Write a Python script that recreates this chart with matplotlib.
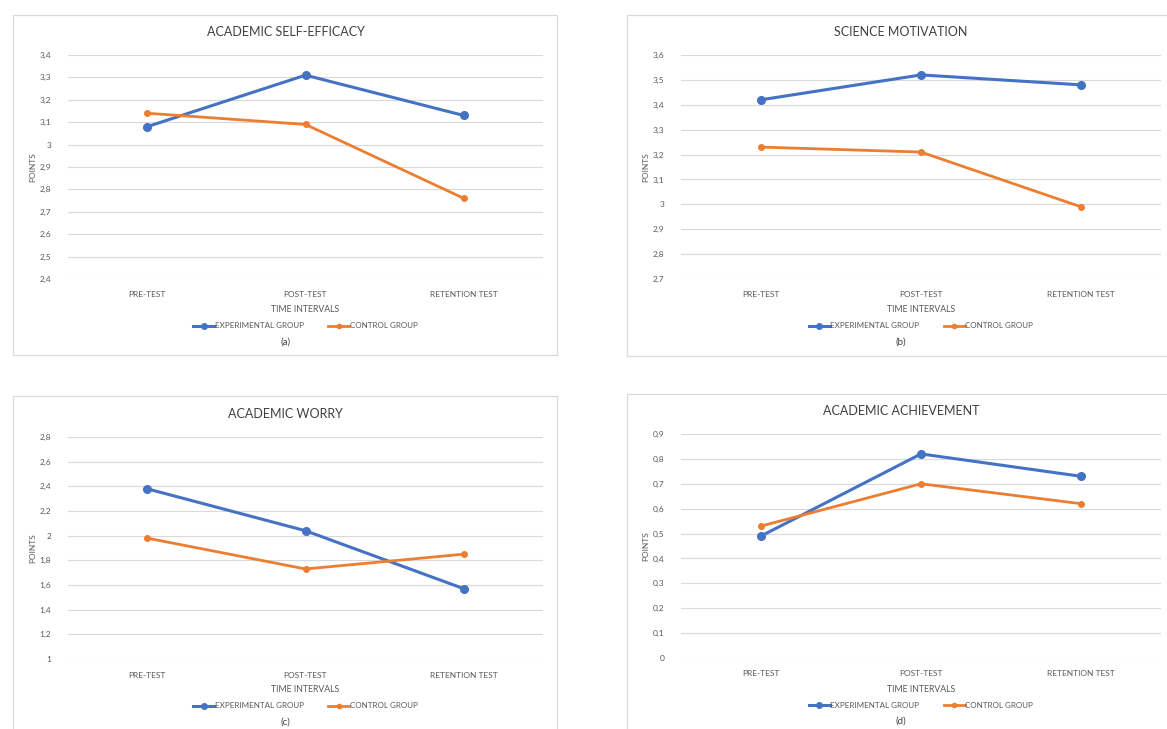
import matplotlib.pyplot as plt
from matplotlib.patches import Rectangle
from matplotlib.lines import Line2D

plt.rcParams['font.family'] = ['Lato', 'DejaVu Sans']

W, H = 1167, 729

stages = ["PRE-TEST", "POST-TEST", "RETENTION TEST"]
titles = ["ACADEMIC SELF-EFFICACY", "SCIENCE MOTIVATION", "ACADEMIC WORRY", "ACADEMIC ACHIEVEMENT"]
captions = ["(a)", "(b)", "(c)", "(d)"]

exp_self_efficacy = [3.08, 3.31, 3.13]
ctrl_self_efficacy = [3.14, 3.09, 2.76]
exp_motivation = [3.42, 3.52, 3.48]
ctrl_motivation = [3.23, 3.21, 2.99]
exp_worry = [2.38, 2.04, 1.57]
ctrl_worry = [1.98, 1.73, 1.85]
exp_achievement = [0.49, 0.82, 0.73]
ctrl_achievement = [0.53, 0.70, 0.62]

y_ticks = [
    [2.4, 2.5, 2.6, 2.7, 2.8, 2.9, 3.0, 3.1, 3.2, 3.3, 3.4],
    [2.7, 2.8, 2.9, 3.0, 3.1, 3.2, 3.3, 3.4, 3.5, 3.6],
    [1.0, 1.2, 1.4, 1.6, 1.8, 2.0, 2.2, 2.4, 2.6, 2.8],
    [0.0, 0.1, 0.2, 0.3, 0.4, 0.5, 0.6, 0.7, 0.8, 0.9],
]

BLUE = "#4472C4"
ORANGE = "#ED7D31"
GRID = "#D9D9D9"
TXT = "#595959"

# pixel layout: axes (left, right, top, bottom), frame (x0, y0, x1, y1)
axes_px = [(68, 543, 55, 279), (681, 1161, 55, 279), (68, 543, 437, 659), (681, 1161, 434, 658)]
frame_px = [(13, 15, 557, 355), (627, 15, 1180, 356), (13, 396, 557, 745), (627, 394, 1180, 745)]

series = [
    (exp_self_efficacy, ctrl_self_efficacy),
    (exp_motivation, ctrl_motivation),
    (exp_worry, ctrl_worry),
    (exp_achievement, ctrl_achievement),
]


def fx(x):
    return x / W


def fy(y):
    return 1 - y / H


def comma(v):
    s = f"{v:.1f}"
    if s.endswith(".0"):
        s = s[:-2]
    return s.replace(".", ",")


fig = plt.figure(figsize=(W / 100, H / 100), dpi=100)
fig.patch.set_facecolor("white")

for i in range(4):
    l, r, t, b = axes_px[i]
    x0, y0, x1, y1 = frame_px[i]
    fig.patches.append(Rectangle((fx(x0), fy(y1)), (x1 - x0) / W, (y1 - y0) / H,
                                 transform=fig.transFigure, fill=False,
                                 edgecolor=GRID, lw=0.9))

    ax = fig.add_axes([fx(l), fy(b), (r - l) / W, (b - t) / H])
    exp, ctrl = series[i]
    xs = range(len(stages))
    ax.plot(xs, exp, color=BLUE, lw=2.2, marker="o", ms=5.5, zorder=3)
    ax.plot(xs, ctrl, color=ORANGE, lw=2.0, marker="o", ms=4, zorder=3)

    ax.set_xlim(-0.5, 2.5)
    ax.set_ylim(y_ticks[i][0], y_ticks[i][-1])
    ax.set_yticks(y_ticks[i])
    ax.set_yticklabels([comma(v) for v in y_ticks[i]])
    ax.set_xticks(list(xs))
    ax.set_xticklabels(stages)
    ax.tick_params(length=0, labelsize=6, colors=TXT)
    ax.tick_params(axis="y", pad=12)
    ax.tick_params(axis="x", pad=9)
    ax.grid(axis="y", color=GRID, lw=0.8)
    ax.set_axisbelow(True)
    for s in ax.spines.values():
        s.set_visible(False)
    ax.set_facecolor("none")

    cx = (l + r) / 2
    fig.text(fx(cx - 20), fy(t - 23), titles[i], ha="center", va="center",
             fontsize=9, color="#404040")
    fig.text(fx(l - 35), fy((t + b) / 2), "POINTS", rotation=90, ha="center",
             va="center", fontsize=6, color=TXT)
    fig.text(fx(cx), fy(b + 31), "TIME INTERVALS", ha="center", va="center",
             fontsize=6.3, color=TXT)
    handles = [Line2D([], [], color=BLUE, lw=2.2, marker="o", ms=4),
               Line2D([], [], color=ORANGE, lw=2.0, marker="o", ms=3)]
    fig.legend(handles, ["EXPERIMENTAL GROUP", "CONTROL GROUP"], loc="center",
               bbox_to_anchor=(fx(cx), fy(b + 47)), ncol=2, frameon=False,
               fontsize=5.8, handlelength=2.6, handletextpad=0.1,
               columnspacing=3, labelcolor=TXT)
    fig.text(fx(cx - 20), fy(b + 63), captions[i], ha="center", va="center",
             fontsize=7, color="#404040")

fig.savefig("out.png", dpi=100)
